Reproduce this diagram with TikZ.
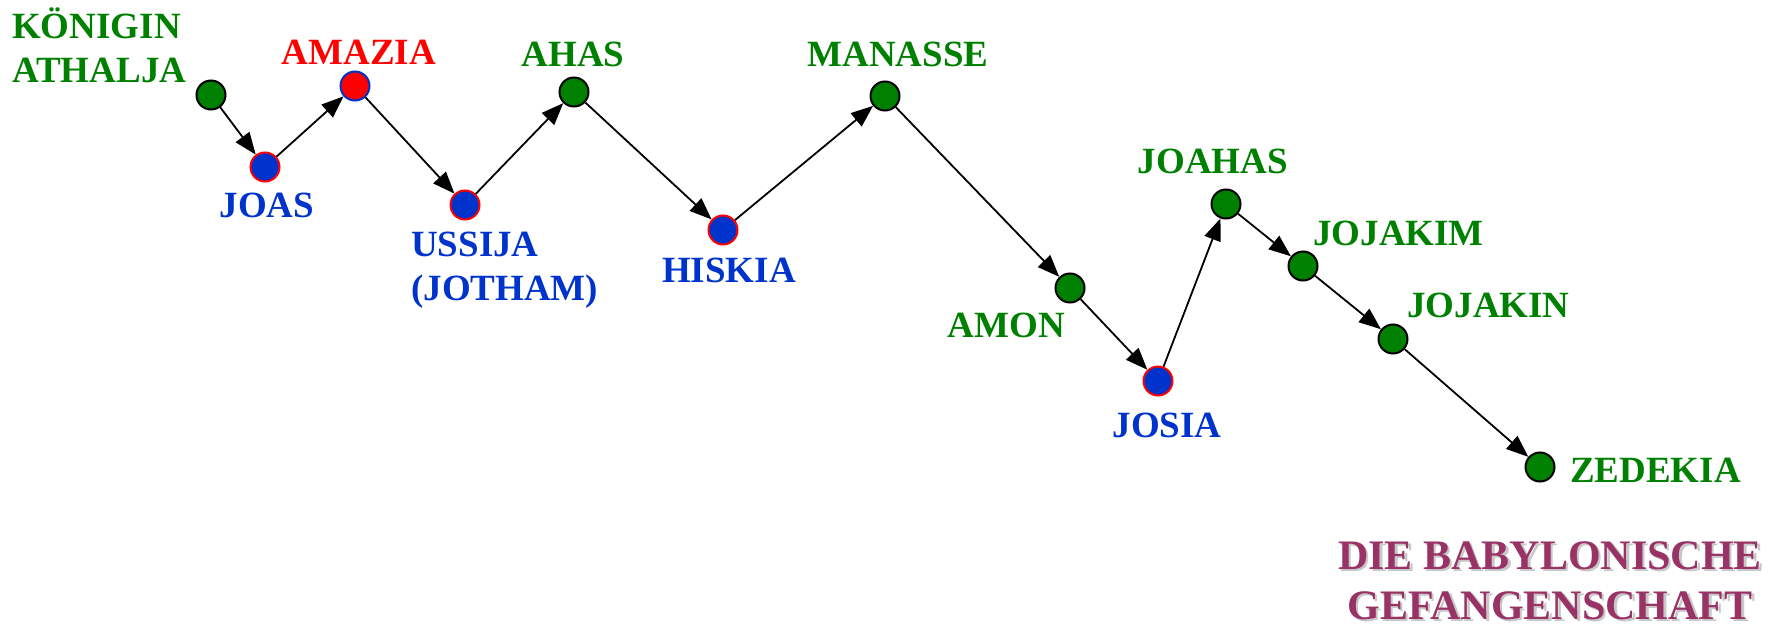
\documentclass[tikz,border=0pt]{standalone}
\usepackage{fontspec}
\setmainfont{Liberation Serif}
\usetikzlibrary{arrows.meta}
\definecolor{kgreen}{HTML}{008000}
\definecolor{kblue}{HTML}{0033CC}
\definecolor{kred}{HTML}{FF0000}
\definecolor{kmaroon}{HTML}{993366}
\definecolor{kshadow}{HTML}{C8C8C8}
\begin{document}
\begin{tikzpicture}[x=1pt,y=-1pt,
  king/.style={circle,minimum size=29pt,inner sep=0pt,line width=2pt},
  good/.style={king,fill=kblue,draw=kred},
  bad/.style={king,fill=kgreen,draw=black},
  mixed/.style={king,fill=kred,draw=kblue},
  lbl/.style={inner sep=0pt,font=\fontsize{37}{44}\selectfont\bfseries},
  gl/.style={lbl,text=kgreen},
  bl/.style={lbl,text=kblue},
  rl/.style={lbl,text=kred},
  conn/.style={line width=1.8pt,-{Triangle[length=22pt,width=17pt]}},
  big/.style={inner sep=0pt,font=\fontsize{42}{50}\selectfont\bfseries,align=center}
]
\useasboundingbox (0,0) rectangle (1780,631);
% kings
\node[bad]   (ath) at (211,95) {};
\node[good]  (joa) at (265,167) {};
\node[mixed] (ama) at (355,86) {};
\node[good]  (uss) at (465,205) {};
\node[bad]   (aha) at (574,92) {};
\node[good]  (his) at (723,230) {};
\node[bad]   (man) at (885,96) {};
\node[bad]   (amo) at (1070,288) {};
\node[good]  (jos) at (1158,381) {};
\node[bad]   (jhs) at (1226,204) {};
\node[bad]   (jkm) at (1303,266) {};
\node[bad]   (jkn) at (1393,339) {};
\node[bad]   (zed) at (1540,467) {};
% connectors
\draw[conn] (ath) -- (joa);
\draw[conn] (joa) -- (ama);
\draw[conn] (ama) -- (uss);
\draw[conn] (uss) -- (aha);
\draw[conn] (aha) -- (his);
\draw[conn] (his) -- (man);
\draw[conn] (man) -- (amo);
\draw[conn] (amo) -- (jos);
\draw[conn] (jos) -- (jhs);
\draw[conn] (jhs) -- (jkm);
\draw[conn] (jkm) -- (jkn);
\draw[conn] (jkn) -- (zed);
% labels
\node[gl,anchor=base west,align=left] (lath) at (12,83) {KÖNIGIN\\ATHALJA};
\node[rl,anchor=base] (lama) at (359,65) {AMAZIA};
\node[bl,anchor=base] (ljoa) at (267,218) {JOAS};
\node[bl,anchor=base west,align=left] (luss) at (411,300) {USSIJA\\(JOTHAM)};
\node[gl,anchor=base] (laha) at (573,67) {AHAS};
\node[bl,anchor=base] (lhis) at (729,282) {HISKIA};
\node[gl,anchor=base] (lman) at (898,67) {MANASSE};
\node[gl,anchor=base] (ljhs) at (1213,174) {JOAHAS};
\node[gl,anchor=base west] (ljkm) at (1313,245) {JOJAKIM};
\node[gl,anchor=base west] (ljkn) at (1407,317) {JOJAKIN};
\node[gl,anchor=base east] (lamo) at (1065,337) {AMON};
\node[bl,anchor=base] (ljos) at (1167,437) {JOSIA};
\node[gl,anchor=base west] (lzed) at (1570,482) {ZEDEKIA};
\node[big,anchor=base,text=kshadow] (bshadow) at (1552.5,621.5) {DIE BABYLONISCHE\\GEFANGENSCHAFT};
\node[big,anchor=base,text=kmaroon] (bab) at (1550,619) {DIE BABYLONISCHE\\GEFANGENSCHAFT};
\end{tikzpicture}
\end{document}
